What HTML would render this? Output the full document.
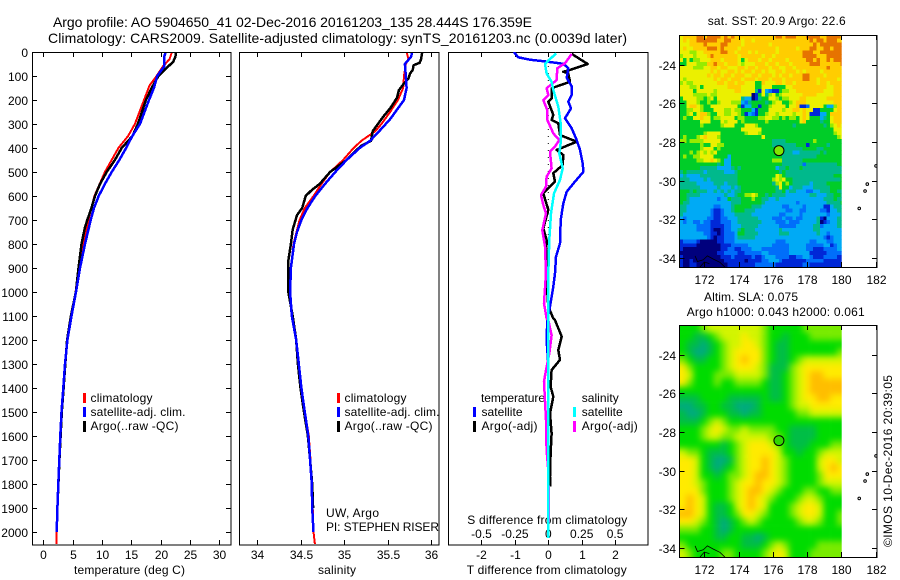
<!DOCTYPE html>
<html>
<head>
<meta charset="utf-8">
<title>Argo profile</title>
<style>
html,body{margin:0;padding:0;background:#fff;width:900px;height:580px;overflow:hidden}
svg{display:block}
text{font-family:"Liberation Sans",sans-serif;font-size:12px;fill:#000}
.t14{font-size:14px}
.t13{font-size:13px}
</style>
</head>
<body>
<svg id="chart" xmlns="http://www.w3.org/2000/svg" width="900" height="580" viewBox="0 0 900 580">
<defs>
<clipPath id="clipT"><rect x="32" y="52" width="199" height="493"/></clipPath>
<clipPath id="clipS"><rect x="239.5" y="52" width="199.5" height="493"/></clipPath>
<clipPath id="clipD"><rect x="448" y="52" width="200" height="493"/></clipPath>
<clipPath id="clipM1"><rect x="679.5" y="35" width="162.2" height="232.3"/></clipPath>
<clipPath id="clipM1b"><rect x="679.5" y="35" width="197.5" height="232.3"/></clipPath>
<clipPath id="clipM2"><rect x="679.5" y="325.5" width="162.2" height="232"/></clipPath>
<clipPath id="clipM2b"><rect x="679.5" y="325.5" width="197.5" height="232"/></clipPath>
<filter id="slaBlur" x="-10%" y="-10%" width="120%" height="120%" color-interpolation-filters="sRGB"><feGaussianBlur stdDeviation="3.2"/></filter>
</defs>

<text class="t14" x="53" y="27" textLength="479">Argo profile: AO 5904650_41 02-Dec-2016 20161203_135 28.444S 176.359E</text>
<text class="t14" x="48" y="43" textLength="579">Climatology: CARS2009. Satellite-adjusted climatology: synTS_20161203.nc (0.0039d later)</text>

<g id="sstMap" clip-path="url(#clipM1)"></g>
<g id="slaClip" clip-path="url(#clipM2)"><g id="slaMap" filter="url(#slaBlur)"></g></g>

<g id="tempLines" clip-path="url(#clipT)"></g>
<g id="salLines" clip-path="url(#clipS)"></g>

<g id="axes"></g>
<g id="coast1" clip-path="url(#clipM1b)"></g>
<g id="coast2" clip-path="url(#clipM2b)"></g>

<rect x="32.5" y="52.5" width="198.5" height="492.5" fill="none" stroke="#000"/>
<rect x="239.5" y="52.5" width="199.5" height="492.5" fill="none" stroke="#000"/>
<rect x="448.5" y="52.5" width="199.5" height="492.5" fill="none" stroke="#000"/>
<rect x="679.5" y="35.5" width="197.5" height="232" fill="none" stroke="#000"/>
<rect x="679.5" y="325.5" width="197.5" height="232" fill="none" stroke="#000"/>

<g>
<rect x="83" y="393" width="3" height="10" fill="#f00"/>
<rect x="83" y="407" width="3" height="10" fill="#00f"/>
<rect x="83" y="421" width="3" height="11" fill="#000"/>
<text x="90.5" y="402" textLength="62">climatology</text>
<text x="90.5" y="416" textLength="95">satellite-adj. clim.</text>
<text x="90.5" y="430" textLength="88">Argo(..raw -QC)</text>
</g>
<g>
<rect x="337" y="393" width="3" height="10" fill="#f00"/>
<rect x="337" y="407" width="3" height="10" fill="#00f"/>
<rect x="337" y="421" width="3" height="11" fill="#000"/>
<text x="344.5" y="402" textLength="62">climatology</text>
<text x="344.5" y="416" textLength="95">satellite-adj. clim.</text>
<text x="344.5" y="430" textLength="88">Argo(..raw -QC)</text>
</g>
<text x="326" y="517" textLength="53">UW, Argo</text>
<text x="326" y="531" textLength="113">PI: STEPHEN RISER</text>

<g>
<text x="481" y="402" textLength="64">temperature</text>
<text x="581.7" y="402" textLength="37">salinity</text>
<rect x="473" y="407" width="3" height="10" fill="#00f"/>
<rect x="473" y="421" width="3" height="11" fill="#000"/>
<rect x="573" y="407" width="3" height="10" fill="#0ff"/>
<rect x="573" y="421" width="3" height="11" fill="#f0f"/>
<text x="481.5" y="416" textLength="41">satellite</text>
<text x="481.5" y="430" textLength="56">Argo(-adj)</text>
<text x="581.7" y="416" textLength="41">satellite</text>
<text x="581.7" y="430" textLength="56">Argo(-adj)</text>
</g>

<text x="467.3" y="524" textLength="160">S difference from climatology</text>
<text x="466.7" y="574" textLength="160">T difference from climatology</text>
<text x="74" y="574" textLength="111">temperature (deg C)</text>
<text x="318" y="574" textLength="38">salinity</text>

<text x="707.7" y="25" textLength="138">sat. SST: 20.9 Argo: 22.6</text>
<text x="704" y="301" textLength="94">Altim. SLA: 0.075</text>
<text x="686.7" y="316" textLength="178">Argo h1000: 0.043 h2000: 0.061</text>
<text transform="translate(892,547) rotate(-90)" x="0" y="0" textLength="172">©IMOS 10-Dec-2016 20:39:05</text>

<g id="diffLines" clip-path="url(#clipD)"></g>
</svg>

<script>
// ---------- depth-profile data ----------
const depthTicks = [0,100,200,300,400,500,600,700,800,900,1000,1100,1200,1300,1400,1500,1600,1700,1800,1900,2000];
const tempTicks = [0,5,10,15,20,25,30];
const salTicks = [34,34.5,35,35.5,36];
const salTickLabels = ['34','34.5','35','35.5','36'];
const dtTicks = [-2,-1,0,1,2];
const dtTickLabels = ['-2','-1','0','1','2'];
const dsTicks = [-0.5,-0.25,0,0.25,0.5];
const dsTickLabels = ['-0.5','-0.25','0','0.25','0.5'];
const lonTicks = [172,174,176,178,180,182];
const latTicks = [-24,-26,-28,-30,-32,-34];

const tempClimDepth = [0,30,60,100,140,200,300,350,400,500,600,700,800,900,1000,1100,1200,1300,1400,1500,1600,1700,1800,1900,2000,2050];
const tempClimValue = [21.9,21.5,20.4,19.3,18.1,17.15,15.6,14.45,12.8,10.5,8.7,7.67,6.8,5.96,5.5,4.75,4.1,3.7,3.4,3.1,2.9,2.7,2.55,2.38,2.27,2.25];
const tempSatDepth = [0,20,60,100,150,200,300,350,400,450,500,550,600,650,700,800,900,1000,1100,1200,1300,1400,1500,1600,1700,1800,1900,2000];
const tempSatValue = [20.85,20.6,20.6,19.4,18.85,18,16.47,15.17,14.1,12.95,11.65,10.5,9.43,8.63,8.07,7.1,6.25,5.57,4.8,4.1,3.7,3.4,3.1,2.9,2.72,2.56,2.4,2.28];
const tempArgoDepth = [0,20,40,60,100,150,200,300,350,400,450,500,550,600,650,700,730,800,900,1000,1100,1200,1300,1400,1500,1600,1700,1800,1930];
const tempArgoValue = [22.6,22.5,22.15,21.3,19.6,18.45,17.5,16.1,15.2,13.35,12.2,10.8,9.66,8.8,8.2,7.5,7.1,6.5,6.0,5.55,4.7,4.05,3.75,3.45,3.15,2.95,2.75,2.58,2.35];

const salClimDepth = [0,30,50,100,150,200,250,300,330,370,400,450,500,550,600,650,700,800,900,1000,1100,1200,1300,1400,1500,1600,1700,1800,1900,2000,2050];
const salClimValue = [35.72,35.74,35.71,35.69,35.68,35.62,35.53,35.43,35.36,35.2,35.11,34.99,34.84,34.74,34.65,34.55,34.49,34.42,34.39,34.37,34.40,34.45,34.48,34.51,34.55,34.595,34.615,34.63,34.64,34.65,34.665];
const salSatDepth = [0,20,50,100,150,200,250,280,320,370,400,450,500,550,600,650,700,750,800,900,1000,1100,1200,1300,1400,1500,1600,1700,1800,1900,2000];
const salSatValue = [35.785,35.77,35.70,35.71,35.72,35.69,35.59,35.53,35.43,35.30,35.18,35.03,34.90,34.78,34.67,34.58,34.51,34.46,34.425,34.39,34.38,34.40,34.45,34.48,34.51,34.55,34.59,34.61,34.63,34.635,34.65];
const salArgoDepth = [0,30,45,55,75,90,110,140,160,190,230,270,300,330,370,390,420,450,500,550,575,600,650,680,740,800,870,1000,1100,1200,1300,1400,1500,1600,1700,1800,1900];
const salArgoValue = [35.90,35.885,35.87,35.80,35.79,35.76,35.74,35.67,35.63,35.61,35.54,35.45,35.39,35.33,35.31,35.20,35.11,35.03,34.84,34.72,34.63,34.56,34.52,34.46,34.41,34.39,34.36,34.36,34.41,34.45,34.47,34.50,34.54,34.585,34.61,34.635,34.645];

const dtSatDepth = [0,22,32,39,49,67,108,143,179,207,235,276,318,367,408,464,499,540,582,631,700,797,853,922,978,1061,1117,1200,1300,2000];
const dtSatValue = [-1.03,-0.9,-0.55,-0.1,0.45,0.6,0.55,0.7,0.7,0.6,0.68,0.5,0.7,0.85,0.95,1.03,1.05,0.8,0.55,0.45,0.37,0.35,0.23,0.2,0.15,0.05,-0.03,-0.05,0,0];
const dtArgoDepth = [8,50,75,82,89,124,151,193,207,262,283,297,346,374,408,429,471,505,540,589,658,735,783,922,1061,1110,1117,1186,1242,1283,1325,1394,1436,1506,1589,1672,1769,1811];
const dtArgoValue = [0.7,1.18,0.65,0.45,0.6,0.65,0.1,0.1,0,0.15,0.1,0.3,0.35,0.85,0.25,0.45,0.43,0.15,0.2,-0.15,0,-0.15,-0.05,-0.07,0,0.15,0.2,0.4,0.3,0.35,0.1,0.07,0.15,0.05,0.1,0.07,0.05,0.05];
const dsSatDepth = [6,50,89,124,158,228,297,367,422,485,533,589,672,783,922,1061,2025];
const dsSatValue = [0.0575,-0.025,-0.0125,0.025,0.0375,0.075,0.0925,0.095,0.0825,0.1075,0.0875,0.0425,0.02,0.0075,0,0,0];
const dsArgoDepth = [8,47,68,117,151,179,200,242,283,339,367,394,415,485,519,561,596,637,672,742,811,922,1047,1110,1117,1180,1256,1325,1374,1533,1659,1742,1960];
const dsArgoValue = [0.175,0.125,0.0675,0.0625,-0.0125,0,-0.0375,-0.0075,-0.0075,0.0375,0.0825,0.05,0.0125,0.025,-0.0125,-0.0175,-0.055,-0.0375,-0.0175,-0.045,-0.025,-0.0175,-0.0325,-0.0125,0,0.025,0.0075,-0.0175,-0.0325,-0.0175,-0.0125,0,0.005];

// ---------- map data ----------
const argoLon = 176.359;
const argoLat = -28.444;
const sstLevels = [
[7,8,8,8,8,9,9,8,9,9,9,9,8,9,8,9,8,8,8,8,8,8,8,8,8,8,8,8,9,9,8,9,9,9,8,8,8,9,9,9,9,8,8,9,9,9,9,8],
[7,8,7,8,8,9,9,9,9,9,9,8,8,9,9,8,8,8,7,8,8,7,8,8,8,8,8,8,8,8,8,8,8,8,8,8,8,8,9,8,9,9,8,9,9,9,8,8],
[7,7,7,8,8,8,8,9,8,8,8,8,9,9,8,8,8,8,7,8,8,8,8,8,8,8,7,8,8,8,8,8,8,8,8,8,8,8,8,9,8,9,9,9,9,9,9,9],
[7,8,7,7,8,8,8,8,9,9,9,8,9,8,8,8,8,7,8,8,8,8,8,8,8,8,8,8,7,8,8,8,8,8,7,8,8,8,9,9,8,8,9,9,8,9,9,9],
[7,7,7,6,6,7,7,8,8,8,8,8,9,9,8,8,7,8,8,8,7,8,7,8,8,8,8,8,7,8,8,8,8,8,8,8,9,9,9,8,8,9,9,9,9,9,9,9],
[6,7,7,7,6,7,7,7,8,9,8,8,8,8,8,8,8,7,8,8,8,8,8,8,7,8,8,7,8,8,8,8,8,8,8,8,9,9,9,9,8,8,8,9,9,9,9,9],
[7,5,7,5,6,6,7,7,7,8,8,8,7,8,8,8,8,7,5,7,8,8,8,7,8,8,7,8,8,8,8,7,8,8,8,8,8,9,9,8,9,8,8,9,8,9,9,9],
[5,5,7,7,7,6,6,6,8,8,9,8,8,7,8,8,8,7,6,7,7,7,8,8,8,7,8,8,7,8,8,8,7,8,8,8,8,8,9,9,9,8,8,8,8,8,8,9],
[7,7,7,7,6,6,6,7,7,8,8,7,8,8,7,7,7,8,8,7,8,8,7,8,8,8,7,8,8,7,7,8,8,7,8,8,8,8,8,8,8,8,8,9,8,8,8,8],
[7,7,7,7,7,7,7,7,7,8,7,8,7,7,8,8,7,8,7,8,8,7,8,8,7,8,7,7,8,8,7,8,8,8,7,8,7,8,8,8,8,7,8,8,8,8,8,8],
[7,7,7,7,7,7,7,7,8,7,8,8,7,8,8,7,8,8,8,7,7,8,8,7,8,8,8,7,8,7,8,8,7,8,8,8,9,9,8,8,8,8,7,8,8,8,8,8],
[7,6,7,7,7,7,7,7,7,7,8,7,8,8,7,8,8,8,7,8,8,8,7,8,8,8,7,8,8,8,7,8,8,8,8,8,9,9,8,8,7,8,8,8,8,8,7,8],
[6,7,6,6,7,7,7,7,7,7,7,8,8,7,8,8,7,8,8,7,7,7,5,5,8,7,7,7,8,8,7,8,8,7,8,8,8,8,8,8,7,8,8,7,8,8,8,8],
[7,7,7,6,6,7,5,7,7,7,7,7,7,7,8,8,8,8,7,7,7,7,5,5,7,7,7,5,5,5,5,7,7,8,8,8,8,8,8,8,8,8,8,7,7,8,8,8],
[7,7,7,7,5,7,7,7,7,7,6,7,7,7,7,7,8,8,7,7,7,7,4,1,7,3,2,1,1,5,6,6,7,7,8,8,8,8,8,8,8,8,7,7,7,8,8,8],
[7,7,7,7,6,6,6,6,7,6,6,7,7,7,7,7,7,7,7,7,7,0,1,5,7,4,6,7,5,6,7,7,7,7,7,7,8,8,8,8,7,7,7,7,7,8,8,8],
[5,7,7,7,7,6,6,5,6,7,5,7,7,7,7,7,7,7,4,3,3,0,1,4,5,5,7,7,6,5,6,6,7,7,7,8,8,7,7,7,7,7,7,8,8,8,8,8],
[5,5,7,7,7,6,5,5,6,5,5,6,7,7,7,6,6,6,3,2,4,5,5,5,5,4,5,6,7,7,5,5,6,7,8,8,8,7,7,7,7,7,7,7,7,8,8,8],
[5,5,7,8,8,7,6,5,5,7,7,7,7,7,7,7,7,5,1,3,3,5,5,1,5,5,6,7,7,7,7,5,7,7,8,1,1,2,7,7,7,7,5,3,3,6,8,8],
[5,5,6,6,7,7,6,5,5,5,7,7,7,6,6,7,6,6,5,5,5,3,1,5,5,5,7,7,7,7,6,7,7,8,8,7,8,7,7,1,1,5,5,5,5,7,8,8],
[5,5,6,7,5,7,8,8,6,5,5,7,7,6,6,7,7,6,5,1,3,2,1,5,5,6,7,7,6,7,7,7,7,6,7,7,8,7,1,1,1,3,3,5,8,8,8,8],
[5,6,5,5,7,7,8,7,7,5,6,6,7,7,7,7,5,6,6,5,5,5,5,6,6,7,7,6,6,5,6,5,6,6,5,7,8,7,5,5,5,3,4,5,7,8,8,8],
[5,5,5,5,5,5,7,7,7,5,5,5,7,6,7,7,7,5,6,5,5,5,5,5,5,6,5,5,5,5,5,5,5,5,5,7,8,5,5,5,5,4,5,5,7,8,8,8],
[5,5,5,5,5,5,6,5,5,5,5,5,6,7,7,7,5,5,5,7,7,7,6,5,5,5,5,5,5,5,5,5,5,4,5,5,5,5,5,5,5,5,4,5,6,7,8,7],
[5,5,5,5,5,5,5,5,5,5,5,5,5,5,5,5,5,5,7,7,7,7,7,7,5,5,5,5,5,5,5,5,5,5,5,5,5,5,5,5,5,5,5,5,5,7,7,7],
[5,5,5,5,5,5,5,6,7,7,7,7,5,5,5,5,5,5,5,6,7,7,7,6,5,5,5,5,5,5,5,5,5,5,5,5,5,5,5,5,5,5,5,5,5,6,7,7],
[5,6,5,5,5,6,7,8,7,7,7,6,5,5,5,5,5,5,5,5,5,5,5,5,7,5,5,5,5,5,5,5,5,5,5,5,5,5,5,5,5,5,5,5,5,5,6,7],
[6,6,5,6,6,6,6,7,7,7,7,7,5,5,5,5,5,5,5,5,5,5,5,5,5,5,5,4,4,4,4,5,5,5,5,5,5,5,5,6,5,5,5,5,5,5,5,5],
[5,5,5,5,5,5,6,5,5,7,7,6,6,5,5,5,5,5,5,5,5,5,5,5,5,5,5,4,4,4,4,4,4,4,5,5,5,1,5,5,5,5,5,4,5,5,5,5],
[5,5,5,5,5,5,6,7,7,7,5,6,5,5,5,5,5,5,5,5,5,5,5,5,5,5,5,5,4,4,4,4,4,4,4,4,5,5,5,5,4,4,5,5,5,5,5,5],
[5,5,5,6,5,6,7,6,7,6,7,5,5,5,5,5,5,5,5,5,5,5,5,5,5,5,5,5,5,4,4,4,4,3,3,4,4,4,4,4,4,5,4,5,5,5,5,5],
[5,6,5,5,6,6,7,7,7,7,5,5,5,5,3,5,5,5,5,5,5,5,5,5,5,5,5,5,5,5,4,4,4,4,4,4,4,4,4,4,5,5,5,5,5,5,5,5],
[5,5,5,5,5,6,6,7,7,8,7,6,5,3,3,5,5,5,5,5,5,5,5,5,5,5,5,6,6,6,4,4,4,4,4,4,5,5,5,5,5,5,5,5,5,5,5,5],
[5,5,5,5,5,5,5,5,5,5,5,4,5,3,3,5,5,5,5,5,5,5,5,5,5,5,5,5,5,5,4,4,4,4,4,4,2,4,4,4,4,4,4,4,4,4,5,5],
[5,5,5,5,5,5,4,4,4,4,4,3,3,3,3,4,5,4,5,5,5,5,5,5,5,5,5,5,3,4,4,5,4,4,4,5,4,4,4,4,4,4,4,4,4,4,4,4],
[4,5,4,4,4,4,4,3,4,4,4,4,4,3,3,3,4,5,5,5,5,5,5,5,5,5,5,5,5,4,5,4,4,4,4,4,4,4,4,4,4,4,4,4,4,4,4,4],
[3,4,3,3,3,3,4,4,4,4,4,4,4,4,4,4,4,5,5,5,5,5,5,5,5,5,5,5,7,6,5,4,4,4,4,4,4,4,4,4,4,4,4,4,4,5,5,5],
[4,4,4,3,3,3,3,4,3,4,4,4,4,4,4,4,4,5,5,5,5,5,5,5,5,5,5,6,7,6,7,5,5,4,4,4,4,4,4,4,4,4,4,4,4,4,4,5],
[4,4,4,4,4,3,3,3,3,3,4,4,4,3,4,4,4,5,5,5,5,5,5,5,5,5,5,4,6,7,5,6,5,4,4,4,4,4,3,4,4,4,4,5,5,5,5,5],
[4,4,4,4,4,4,3,3,3,3,3,4,3,3,3,4,3,4,5,5,5,5,5,5,5,5,5,5,4,7,5,5,3,4,4,4,3,3,3,4,4,4,4,4,5,5,5,5],
[5,5,5,4,5,4,4,4,3,3,4,3,4,3,4,3,4,4,5,5,5,5,5,5,5,5,5,5,4,4,5,3,4,4,3,3,3,2,2,3,3,4,4,4,5,5,4,4],
[5,5,4,4,4,4,3,3,3,3,3,3,3,4,3,3,4,5,5,6,6,7,6,5,5,4,5,4,4,4,4,3,3,3,3,3,3,3,4,4,3,3,3,4,4,5,5,4],
[5,5,4,3,3,3,3,3,3,3,3,2,3,3,5,4,4,4,5,5,5,6,5,5,4,4,3,3,4,3,3,3,3,3,3,3,3,3,3,3,3,3,4,4,4,5,4,4],
[5,4,4,3,3,3,3,3,3,3,3,3,3,3,3,4,4,4,5,5,5,5,5,5,4,3,3,3,3,3,3,3,3,3,2,3,3,3,3,3,3,3,3,4,4,4,4,5],
[4,4,3,3,3,3,3,3,3,3,2,2,3,3,3,4,5,5,5,5,5,4,4,4,3,3,3,3,3,3,2,2,3,3,3,3,2,3,3,3,3,3,1,1,3,4,4,4],
[4,4,3,3,3,3,3,3,3,2,1,1,2,3,3,4,5,5,5,4,4,4,3,3,3,3,3,3,3,3,3,2,2,3,3,2,2,3,3,3,3,2,2,1,3,3,4,4],
[4,3,3,3,3,3,3,3,3,2,1,1,2,3,3,3,4,4,4,4,4,3,3,3,3,3,3,3,3,2,2,3,3,3,3,2,3,3,3,3,3,3,3,2,3,3,3,4],
[3,2,3,3,3,3,3,3,2,2,1,1,2,2,3,3,3,4,4,4,4,4,4,3,3,3,3,2,2,2,3,2,2,3,2,2,3,3,3,3,4,1,0,3,3,3,4,4],
[3,2,3,3,2,2,3,2,2,1,1,1,2,2,2,3,3,4,4,4,4,4,4,4,3,3,3,3,2,2,2,3,2,2,2,3,3,3,3,3,4,0,1,2,3,3,4,4],
[3,3,3,3,3,2,2,2,2,1,1,1,1,2,2,3,3,3,4,4,4,4,4,3,3,3,3,3,3,2,2,2,2,2,3,3,3,3,3,4,4,2,3,3,3,3,4,4],
[3,3,3,3,3,2,2,2,2,1,0,0,1,2,2,3,3,4,5,4,4,4,3,3,3,3,3,3,3,4,3,3,3,3,3,3,3,3,3,4,4,3,3,3,3,3,3,3],
[3,3,3,3,3,3,3,2,2,1,1,0,1,2,2,2,3,5,5,4,4,4,4,3,3,3,3,3,3,4,4,4,3,3,3,3,3,3,3,3,4,3,3,2,3,3,3,3],
[3,3,3,3,3,3,3,3,2,1,0,1,1,2,2,2,3,4,4,4,4,4,3,3,3,3,3,3,3,3,3,3,3,3,3,3,3,3,3,3,3,3,2,1,2,3,3,3],
[1,2,2,2,2,1,0,0,0,0,0,1,1,2,2,2,3,3,3,3,3,3,3,3,3,3,3,3,2,2,2,3,3,3,3,3,3,3,2,2,3,3,3,2,2,3,3,3],
[1,1,1,1,1,0,0,0,0,0,0,0,1,1,1,2,2,2,2,2,3,3,3,3,3,3,3,2,2,2,2,2,3,3,3,3,3,2,2,2,2,2,3,3,1,2,3,3],
[1,0,0,0,0,0,0,0,0,0,0,0,1,1,2,2,1,1,2,2,2,3,3,3,2,2,2,2,2,2,2,2,3,3,3,3,3,2,2,1,1,1,2,2,2,2,3,3],
[0,0,0,0,0,0,0,0,0,0,0,1,1,2,2,2,2,1,1,2,2,2,2,2,3,3,2,2,2,2,2,2,3,3,3,3,3,3,1,1,1,1,1,2,2,2,2,2],
[1,0,0,0,0,0,0,0,0,0,0,0,1,1,1,2,1,1,1,1,1,2,1,1,2,3,3,3,2,2,2,2,1,1,2,2,3,3,2,1,1,1,2,2,2,2,1,1],
[1,0,0,1,0,0,0,0,0,0,0,0,0,1,1,1,1,1,1,0,1,1,1,1,2,2,3,3,3,2,1,1,1,1,1,1,1,2,2,2,2,2,1,1,1,1,1,1],
[1,0,0,1,1,0,0,0,0,0,0,0,0,0,1,1,1,1,1,1,1,1,2,2,2,2,2,2,1,1,1,1,1,1,1,1,2,2,1,1,1,1,1,1,1,1,1,1]
];
const slaLevels = [
[2,2,2,3,4,4,4,4,4,4,4,4,3,2,2,2,2,2,3,3,3,3,3,3],
[2,2,1,1,2,3,4,4,4,5,4,4,3,2,2,1,2,2,2,3,3,3,3,3],
[2,1,1,0,1,2,3,4,4,5,5,4,3,2,1,1,2,2,2,2,2,2,2,2],
[2,1,0,0,1,2,3,4,5,5,5,5,3,2,1,1,2,2,2,2,2,2,2,3],
[3,2,1,1,2,2,3,4,5,6,5,5,3,2,1,1,2,3,4,4,4,4,4,4],
[5,3,2,2,2,2,3,4,5,5,5,4,3,1,1,1,3,4,5,5,5,5,5,5],
[5,4,2,2,2,3,3,3,4,4,4,4,3,1,1,2,3,4,5,6,6,5,5,5],
[5,3,2,2,2,3,2,2,3,3,3,3,2,1,1,2,3,4,5,6,6,6,6,6],
[2,2,2,2,2,2,2,2,2,2,2,2,2,1,1,2,3,4,5,6,6,6,6,6],
[1,1,1,2,2,2,2,1,1,1,1,1,2,1,1,2,3,4,5,5,6,6,5,5],
[0,0,1,1,2,2,1,1,0,0,0,1,2,2,2,2,3,4,4,5,5,5,5,5],
[1,0,0,1,2,2,2,1,1,0,1,1,2,2,2,2,2,3,3,4,4,4,4,4],
[1,1,1,2,3,4,3,2,2,2,2,2,2,2,2,2,2,2,2,2,2,2,2,2],
[2,2,2,3,4,5,4,3,3,4,3,3,3,3,2,2,1,1,1,1,2,2,2,2],
[2,2,2,3,4,4,3,3,4,4,4,4,4,3,3,2,1,1,1,1,2,2,2,2],
[2,2,2,2,2,2,1,2,3,4,5,5,5,4,3,2,1,1,1,2,2,2,3,3],
[4,3,3,2,1,1,1,2,3,4,5,5,5,5,4,2,2,1,2,2,3,4,4,4],
[5,5,4,2,1,0,0,1,3,4,5,5,6,5,4,3,2,2,2,2,4,5,5,4],
[5,5,4,2,1,0,1,2,3,4,5,5,6,5,4,3,2,2,2,2,4,5,6,5],
[5,5,4,2,2,1,2,3,3,4,5,6,6,5,4,3,2,2,2,2,3,5,5,5],
[5,5,4,3,2,2,2,3,4,5,5,6,5,5,4,3,2,2,2,2,3,4,4,4],
[5,5,5,3,2,2,2,3,4,5,6,6,5,4,3,2,2,2,3,3,2,2,3,3],
[5,6,5,4,2,2,2,3,4,5,6,5,4,3,2,2,2,3,4,4,3,2,2,2],
[5,6,5,4,2,1,1,2,4,5,6,5,4,2,2,2,3,4,5,5,4,2,2,2],
[6,6,5,4,2,1,1,2,3,5,5,4,3,2,2,2,3,4,5,5,4,2,2,3],
[5,5,4,3,2,1,0,1,2,3,4,3,2,2,2,2,2,3,4,4,3,2,2,3],
[3,3,3,2,2,1,0,1,2,2,2,2,2,2,2,2,2,2,2,2,2,2,2,2],
[2,2,2,2,2,1,1,2,2,1,1,0,1,2,2,2,2,2,2,2,2,2,2,2],
[3,2,2,2,2,2,2,2,2,1,1,1,2,3,4,3,2,2,2,2,3,3,3,3],
[4,3,2,2,2,2,3,3,2,2,2,2,3,4,5,4,2,2,2,3,3,3,3,3]
];
const coastLon = [171.46,171.6,171.94,172.18,172.53,172.92,173.2];
const coastLat = [-33.9,-34.19,-34.1,-33.9,-34.07,-34.24,-34.48];
const coastInnerLon = [171.75,172.0,172.3];
const coastInnerLat = [-34.48,-34.22,-34.3];
const islandLon = [182.03,181.52,181.39,181.05];
const islandLat = [-29.24,-30.18,-30.54,-31.44];

// ---------- scales ----------
const depthY = d => 52 + d * 0.24;
const tempX = t => 43.3 + t * 5.87;
const salX = s => 257 + (s - 34) * 87;
const dtX = t => 548.3 + t * 33.4;
const dsX = s => 548.3 + s * 133.6;
const lonX = lon => 704.3 + (lon - 172) * 17.12;
const latY1 = lat => 142 + (-28 - lat) * 19.3;
const latY2 = lat => latY1(lat) + 290;
const sstPalette = ['rgb(0,0,125)','rgb(0,40,215)','rgb(0,110,250)','rgb(0,170,245)','rgb(0,185,140)','rgb(0,205,40)','rgb(150,235,0)','rgb(235,240,0)','rgb(255,205,0)','rgb(230,115,0)'];
const slaPalette = ['rgb(0,170,130)','rgb(0,190,70)','rgb(0,220,0)','rgb(120,235,0)','rgb(210,245,0)','rgb(255,235,0)','rgb(255,190,0)'];

const NS = 'http://www.w3.org/2000/svg';
function mk(tag, attrs, parent) {
  const e = document.createElementNS(NS, tag);
  for (const k in attrs) e.setAttribute(k, attrs[k]);
  parent.appendChild(e);
  return e;
}
function profile(parent, values, depths, sx, color, width) {
  const pts = values.map((v, i) => sx(v).toFixed(1) + ',' + depthY(depths[i]).toFixed(1)).join(' ');
  return mk('polyline', {points: pts, fill: 'none', stroke: color, 'stroke-width': width, 'stroke-linejoin': 'round', 'shape-rendering': 'crispEdges'}, parent);
}

// ---------- temperature lines ----------
const tg = document.getElementById('tempLines');
const l1 = profile(tg, tempClimValue, tempClimDepth, tempX, '#f00', 2);


const l2 = profile(tg, tempArgoValue, tempArgoDepth, tempX, '#000', 2.5);


const l3 = profile(tg, tempSatValue, tempSatDepth, tempX, '#00f', 2.5);



// ---------- salinity lines ----------
const sg = document.getElementById('salLines');
const l4 = profile(sg, salClimValue, salClimDepth, salX, '#f00', 2);


const l5 = profile(sg, salArgoValue, salArgoDepth, salX, '#000', 2.5);


const l6 = profile(sg, salSatValue, salSatDepth, salX, '#00f', 2.5);



// ---------- difference lines ----------
const dg = document.getElementById('diffLines');
const zero = mk('line', {x1: dtX(0), x2: dtX(0), y1: depthY(0), y2: depthY(1300), stroke: '#000', 'stroke-width': 1, 'stroke-dasharray': '1 6'}, dg);


const l7 = profile(dg, dtArgoValue, dtArgoDepth, dtX, '#000', 2.5);


const l8 = profile(dg, dtSatValue, dtSatDepth, dtX, '#00f', 2.5);


const l9 = profile(dg, dsArgoValue, dsArgoDepth, dsX, '#f0f', 2.5);


const l10 = profile(dg, dsSatValue, dsSatDepth, dsX, '#0ff', 2.5);



// ---------- heatmaps ----------
const sstG = document.getElementById('sstMap');
sstLevels.forEach((row, r) => row.forEach((v, c) => {
  const lon = 170.55 + c * 0.2, lat = -22.45 - r * 0.2;
  const x0 = lonX(lon), x1 = lonX(lon + 0.2), y0 = latY1(lat), y1 = latY1(lat - 0.2);
  const cell = mk('rect', {x: x0, y: y0, width: x1 - x0 + 0.3, height: y1 - y0 + 0.3, fill: sstPalette[v], 'shape-rendering': 'crispEdges'}, sstG);
  
  
}));
const slaG = document.getElementById('slaMap');
slaLevels.forEach((row, r) => row.forEach((v, c) => {
  const lon = 170.55 + c * 0.4, lat = -22.45 - r * 0.4;
  let x0 = lonX(lon), x1 = lonX(lon + 0.4), y0 = latY2(lat), y1 = latY2(lat - 0.4);
  if (c === 0) x0 -= 14;
  if (c === row.length - 1) x1 += 14;
  if (r === 0) y0 -= 14;
  if (r === slaLevels.length - 1) y1 += 14;
  const cell = mk('rect', {x: x0, y: y0, width: x1 - x0 + 0.3, height: y1 - y0 + 0.3, fill: slaPalette[v]}, slaG);
  
  
}));

// ---------- axes ----------
const ax = document.getElementById('axes');
function tick(x1, y1, x2, y2) {
  const t = mk('line', {x1: x1, y1: y1, x2: x2, y2: y2, stroke: '#000', 'stroke-width': 1, 'shape-rendering': 'crispEdges'}, ax);
  
  
}
function label(x, y, s, anchor) {
  const t = mk('text', {x: x, y: y, 'text-anchor': anchor}, ax);
  t.textContent = s;
  
  
}
depthTicks.forEach(d => {
  const y = Math.round(depthY(d)) + 0.5;
  tick(32, y, 37, y);
  tick(226, y, 231, y);
  label(28, y + 4.5, String(d), 'end');
});
tempTicks.forEach(v => {
  const x = Math.round(tempX(v)) + 0.5;
  tick(x, 52, x, 57);
  tick(x, 540, x, 545);
  label(x, 559, String(v), 'middle');
});
salTicks.forEach((v, i) => {
  const x = Math.round(salX(v)) + 0.5;
  tick(x, 52, x, 57);
  tick(x, 540, x, 545);
  label(x, 559, salTickLabels[i], 'middle');
});
dtTicks.forEach((v, i) => {
  const x = Math.round(dtX(v)) + 0.5;
  tick(x, 52, x, 57);
  tick(x, 540, x, 545);
  label(x, 559, dtTickLabels[i], 'middle');
});
dsTicks.forEach((v, i) => {
  label(dsX(v), 538, dsTickLabels[i], 'middle');
});
function mapAxes(latY, top, bottom) {
  lonTicks.forEach(v => {
    const x = Math.round(lonX(v)) + 0.5;
    tick(x, top, x, top + 5);
    tick(x, bottom - 5, x, bottom);
    label(x, bottom + 17, String(v), 'middle');
  });
  latTicks.forEach(v => {
    const y = Math.round(latY(v)) + 0.5;
    tick(679.5, y, 684.5, y);
    tick(872, y, 877, y);
    label(676, y + 4.5, String(v), 'end');
  });
}
mapAxes(latY1, 35, 267);
mapAxes(latY2, 325, 557);

// ---------- markers & coast ----------
function overlay(gId, latY, fill) {
  const g = document.getElementById(gId);
  const c1 = mk('polyline', {points: coastLon.map((v, i) => lonX(v) + ',' + latY(coastLat[i])).join(' '), fill: 'none', stroke: '#000', 'stroke-width': 0.8}, g);
  
  
  const c2 = mk('polyline', {points: coastInnerLon.map((v, i) => lonX(v) + ',' + latY(coastInnerLat[i])).join(' '), fill: 'none', stroke: '#000', 'stroke-width': 0.8}, g);
  
  
  islandLon.forEach((v, i) => {
    const s = mk('circle', {cx: lonX(v), cy: latY(islandLat[i]), r: 1.3, fill: '#fff', stroke: '#000', 'stroke-width': 1}, g);
    
    
  });
  const m = mk('circle', {cx: lonX(argoLon), cy: latY(argoLat), r: 5, fill: fill, stroke: '#000', 'stroke-width': 1}, g);
  
  
}
overlay('coast1', latY1, 'rgb(130,230,0)');
overlay('coast2', latY2, 'rgb(50,215,0)');
</script>
</body>
</html>
